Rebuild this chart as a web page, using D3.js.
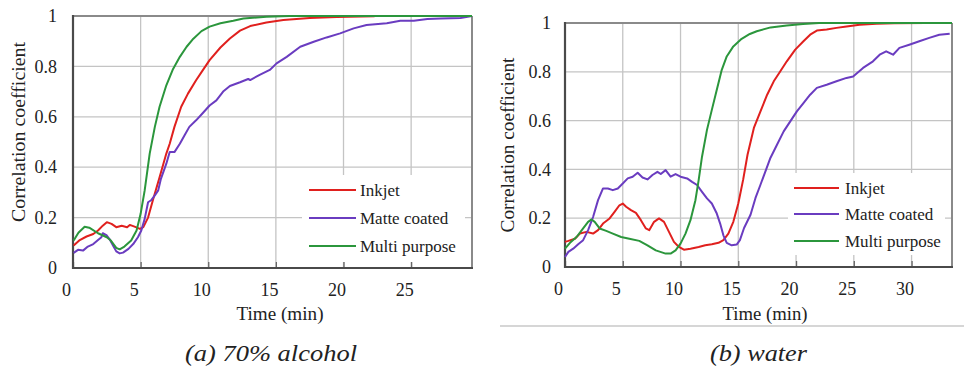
<!DOCTYPE html>
<meta charset="utf-8">
<head>
    <title>Correlation coefficient</title>
    <script src="https://cdn.jsdelivr.net/npm/d3@7/dist/d3.min.js"></script>
</head>

<style>
    body { margin: 0; background: #fff; }
    .grid line { stroke: #c4c4c4; stroke-width: 1.3px; }
    .series { fill: none; stroke-width: 2px; stroke-linejoin: round; }
</style>

<svg width="964" height="367"></svg>

<script>
    // series names and colours
    var seriesNames = ["Inkjet", "Matte coated", "Multi purpose"];
    var seriesColors = ["#e0201e", "#6a3cc0", "#2b963c"];
    var yTicks = [0, 0.2, 0.4, 0.6, 0.8, 1];
    var xTicksAlcohol = [0, 5, 10, 15, 20, 25];
    var xTicksWater = [0, 5, 10, 15, 20, 25, 30];

    // (a) 70% alcohol : [time (min), correlation]
    var alcoholInkjet = [[0.05,0.089],[0.5,0.111],[1.0,0.125],[1.5,0.135],[1.85,0.149],[2.2,0.168],[2.5,0.182],[2.85,0.175],[3.2,0.162],[3.6,0.168],[4.0,0.162],[4.2,0.171],[4.55,0.164],[4.95,0.155],[5.2,0.162],[5.55,0.2],[5.9,0.268],[6.4,0.36],[6.9,0.454],[7.15,0.493],[7.5,0.56],[8.0,0.64],[8.5,0.692],[9.1,0.745],[9.6,0.785],[10.1,0.825],[10.9,0.875],[11.6,0.911],[12.35,0.942],[13.1,0.96],[14.3,0.974],[15.55,0.984],[17.5,0.992],[19.5,0.996],[22.3,0.999]];
    var alcoholMatte = [[0.05,0.06],[0.37,0.072],[0.74,0.069],[1.1,0.085],[1.5,0.095],[1.85,0.111],[2.1,0.122],[2.2,0.138],[2.5,0.129],[2.7,0.115],[3.0,0.085],[3.2,0.066],[3.45,0.058],[3.7,0.061],[4.1,0.076],[4.45,0.095],[4.8,0.122],[5.05,0.149],[5.3,0.195],[5.55,0.261],[5.8,0.27],[6.05,0.288],[6.3,0.308],[6.5,0.354],[6.9,0.414],[7.15,0.46],[7.5,0.46],[7.9,0.493],[8.25,0.527],[8.6,0.56],[9.1,0.586],[9.6,0.615],[10.1,0.645],[10.6,0.665],[11.1,0.7],[11.6,0.722],[12.35,0.737],[12.95,0.75],[13.1,0.746],[13.8,0.766],[14.55,0.786],[15.05,0.812],[15.8,0.838],[16.8,0.878],[17.8,0.898],[18.75,0.915],[19.75,0.931],[20.75,0.951],[21.7,0.964],[23.2,0.971],[24.2,0.981],[25.2,0.981],[26.2,0.988],[27.2,0.99],[28.65,0.992],[29.5,1.0]];
    var alcoholMulti = [[0.05,0.109],[0.4,0.14],[0.86,0.164],[1.2,0.16],[1.85,0.138],[2.5,0.122],[2.8,0.109],[3.2,0.08],[3.45,0.074],[3.8,0.085],[4.3,0.109],[4.7,0.149],[5.0,0.215],[5.3,0.308],[5.67,0.454],[6.05,0.56],[6.4,0.64],[6.9,0.725],[7.4,0.79],[7.9,0.838],[8.4,0.878],[8.9,0.91],[9.5,0.94],[10.1,0.958],[10.9,0.971],[11.85,0.981],[12.6,0.99],[14.3,0.997],[16,1.0],[29.5,1.0]];

    // (b) water
    var waterInkjet = [[0,0.103],[0.29,0.107],[0.86,0.116],[1.29,0.137],[1.86,0.144],[2.43,0.137],[2.86,0.151],[3.29,0.178],[3.86,0.199],[4.29,0.226],[4.71,0.253],[5.0,0.26],[5.29,0.247],[5.71,0.233],[6.14,0.222],[6.57,0.192],[7.0,0.158],[7.29,0.151],[7.71,0.185],[8.14,0.199],[8.57,0.185],[9.0,0.144],[9.43,0.103],[9.86,0.082],[10.29,0.071],[10.86,0.075],[11.57,0.082],[12.14,0.089],[12.71,0.093],[13.29,0.099],[13.71,0.11],[14.14,0.137],[14.57,0.185],[15.0,0.26],[15.43,0.36],[15.8,0.46],[16.35,0.57],[16.92,0.638],[17.5,0.706],[18.07,0.761],[18.64,0.802],[19.2,0.843],[19.93,0.891],[20.64,0.925],[21.22,0.952],[21.8,0.969],[22.65,0.973],[23.5,0.98],[24.37,0.986],[25.5,0.993],[26.95,0.997],[28.5,0.999],[31.2,1.0]];
    var waterMatte = [[0,0.041],[0.29,0.062],[0.71,0.075],[1.14,0.093],[1.57,0.11],[2.0,0.151],[2.43,0.205],[2.86,0.274],[3.29,0.322],[3.71,0.322],[4.14,0.315],[4.57,0.322],[5.0,0.342],[5.43,0.363],[5.86,0.37],[6.29,0.386],[6.71,0.367],[7.14,0.359],[7.57,0.377],[8.0,0.39],[8.29,0.381],[8.71,0.397],[9.14,0.37],[9.57,0.381],[10.0,0.37],[10.57,0.363],[11.0,0.349],[11.43,0.336],[11.86,0.308],[12.29,0.281],[12.71,0.26],[13.14,0.219],[13.43,0.178],[13.71,0.13],[14.0,0.099],[14.43,0.089],[14.86,0.092],[15.14,0.11],[15.5,0.16],[16.06,0.214],[16.49,0.283],[16.92,0.337],[17.35,0.392],[17.78,0.447],[18.35,0.501],[18.93,0.556],[19.5,0.597],[20.07,0.638],[20.64,0.672],[21.22,0.706],[21.8,0.734],[22.65,0.747],[23.5,0.761],[24.37,0.775],[24.94,0.781],[25.8,0.816],[26.66,0.843],[27.24,0.87],[27.8,0.884],[28.4,0.87],[28.95,0.898],[29.8,0.911],[30.67,0.925],[31.53,0.939],[32.4,0.952],[33.3,0.956]];
    var waterMulti = [[0,0.075],[0.43,0.099],[1.0,0.123],[1.57,0.158],[2.0,0.185],[2.3,0.195],[2.57,0.185],[3.0,0.158],[3.57,0.148],[4.14,0.137],[4.86,0.123],[5.57,0.116],[6.43,0.107],[7.14,0.089],[7.86,0.068],[8.71,0.055],[9.14,0.055],[9.57,0.068],[10.0,0.096],[10.43,0.137],[10.86,0.192],[11.29,0.274],[11.57,0.356],[11.86,0.452],[12.29,0.562],[12.71,0.644],[13.14,0.726],[13.57,0.808],[14.0,0.863],[14.57,0.904],[15.29,0.935],[16.0,0.955],[16.6,0.966],[17.8,0.982],[19.2,0.99],[20.6,0.996],[22,1.0],[33.5,1.0]];

    var svg = d3.select('svg');

    function drawPanel(p) {
        var x = d3.scaleLinear().domain([0, p.xMax]).range([p.left, p.right]);
        var y = d3.scaleLinear().domain([0, 1]).range([p.bottom, p.top]);
        var g = svg.append('g');

        // grid
        var grid = g.append('g').attr('class', 'grid');
        grid.selectAll('.gx').data(p.xTicks.filter(function (d) { return d > 0; })).enter().append('line')
            .attr('x1', x).attr('x2', x).attr('y1', p.top).attr('y2', p.bottom);
        grid.selectAll('.gy').data(yTicks.filter(function (d) { return d > 0 && d < 1; })).enter().append('line')
            .attr('y1', y).attr('y2', y).attr('x1', p.left).attr('x2', p.right);

        // legend box hides grid behind it
        g.append('rect').attr('x', p.legend.x0).attr('y', p.legend.y0)
            .attr('width', p.legend.x1 - p.legend.x0).attr('height', p.legend.y1 - p.legend.y0)
            .attr('fill', '#fff');

        // small inside ticks on the x axis
        g.append('g').attr('transform', 'translate(0,' + p.bottom + ')')
            .call(d3.axisBottom(x).tickValues(p.xTicks).tickSizeInner(-6).tickSizeOuter(0).tickPadding(15))
            .call(function (a) {
                a.attr('font-size', 18);
                a.select('.domain').remove();
                a.selectAll('line').attr('stroke', '#666').attr('stroke-width', 1.3);
                a.selectAll('text').attr('dx', -7);
            });

        g.append('g').attr('transform', 'translate(' + p.left + ',0)')
            .call(d3.axisLeft(y).tickValues(yTicks).tickSize(0).tickPadding(p.yPad)
                .tickFormat(function (d) { return (d === 0 || d === 1) ? d : d.toFixed(1); }))
            .call(function (a) {
                a.attr('font-size', 18);
                a.select('.domain').remove();
            });

        // frame
        g.append('line').attr('x1', p.left).attr('x2', p.right).attr('y1', p.top).attr('y2', p.top)
            .attr('stroke', '#8a8a8a').attr('stroke-width', 2);
        g.append('line').attr('x1', p.right).attr('x2', p.right).attr('y1', p.top).attr('y2', p.bottom)
            .attr('stroke', '#8a8a8a').attr('stroke-width', 2);
        g.append('line').attr('x1', p.left).attr('x2', p.left).attr('y1', p.top - 1).attr('y2', p.bottom + 1)
            .attr('stroke', '#4a4a4a').attr('stroke-width', 2.2);
        g.append('line').attr('x1', p.left - 1).attr('x2', p.right + 1).attr('y1', p.bottom).attr('y2', p.bottom)
            .attr('stroke', '#4a4a4a').attr('stroke-width', 2.2);

        // series
        var line = d3.line().x(function (d) { return x(d[0]); }).y(function (d) { return y(d[1]); });
        g.selectAll('.series').data(p.series).enter().append('path')
            .attr('class', 'series')
            .attr('stroke', function (d, i) { return seriesColors[i]; })
            .attr('d', line);

        // legend
        var lg = g.selectAll('.leg').data(seriesNames).enter().append('g')
            .attr('transform', function (d, i) { return 'translate(0,' + p.legend.rows[i] + ')'; });
        lg.append('line').attr('x1', p.legend.lx0).attr('x2', p.legend.lx1)
            .attr('stroke', function (d, i) { return seriesColors[i]; }).attr('stroke-width', 2);
        lg.append('text').attr('x', p.legend.tx).attr('dy', '0.33em').attr('font-size', 17)
            .text(function (d) { return d; });

        // titles
        g.append('text').attr('transform', 'translate(' + p.yTitleX + ',' + p.yTitleY + ') rotate(-90)')
            .attr('text-anchor', 'middle').attr('dy', '0.35em').attr('font-size', 18)
            .attr('textLength', p.yTitleLen).attr('lengthAdjust', 'spacingAndGlyphs')
            .text('Correlation coefficient');
        g.append('text').attr('x', p.xTitleX).attr('y', 320).attr('text-anchor', 'middle')
            .attr('font-size', 18).attr('textLength', p.xTitleLen).attr('lengthAdjust', 'spacingAndGlyphs')
            .text('Time (min)');
        g.append('text').attr('x', p.capX).attr('y', 361).attr('font-size', 24)
            .attr('font-style', 'italic').attr('textLength', p.capLen).attr('lengthAdjust', 'spacingAndGlyphs')
            .text(p.caption);
    }

    drawPanel({
        left: 73, right: 472, top: 16, bottom: 268, xMax: 29.5, xTicks: xTicksAlcohol, yPad: 16,
        series: [alcoholInkjet, alcoholMatte, alcoholMulti],
        legend: { x0: 302, x1: 465, y0: 175, y1: 262, rows: [190, 218, 246], lx0: 309, lx1: 356, tx: 360 },
        yTitleX: 19, yTitleY: 132, yTitleLen: 180, xTitleX: 280, xTitleLen: 87,
        capX: 185, capLen: 172, caption: '(a) 70% alcohol'
    });

    drawPanel({
        left: 565, right: 952, top: 23, bottom: 267, xMax: 33.5, xTicks: xTicksWater, yPad: 14,
        series: [waterInkjet, waterMatte, waterMulti],
        legend: { x0: 788, x1: 945, y0: 173, y1: 255, rows: [188, 214, 241], lx0: 794, lx1: 839, tx: 845 },
        yTitleX: 508, yTitleY: 145, yTitleLen: 175, xTitleX: 765, xTitleLen: 85,
        capX: 710, capLen: 97, caption: '(b) water'
    });

    // thin rule under panel (b)
    svg.append('line').attr('x1', 500).attr('x2', 964).attr('y1', 326).attr('y2', 326)
        .attr('stroke', '#c8c8c8').attr('stroke-width', 1.3);

    // one serif face for every label
    svg.selectAll('text').attr('font-family', 'Liberation Serif').attr('fill', '#222');
</script>
